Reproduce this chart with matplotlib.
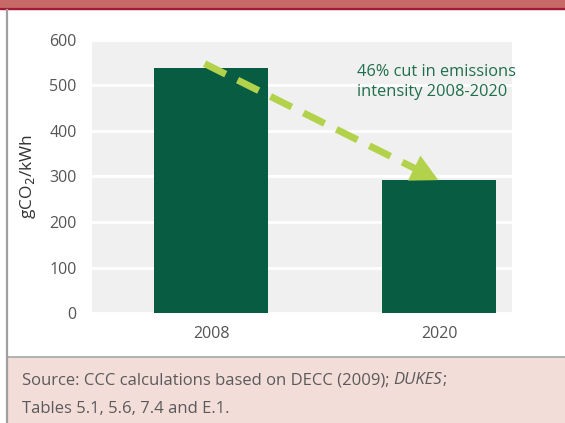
import numpy as np
import matplotlib.pyplot as plt
from matplotlib.patches import Rectangle, Polygon
from matplotlib.lines import Line2D

plt.rcParams['font.family'] = ['Open Sans', 'DejaVu Sans']

years = ['2008', '2020']
intensity = [538, 292]  # gCO2/kWh
yticks = [0, 100, 200, 300, 400, 500, 600]

bar_color = '#075c41'
arrow_color = '#b3d24b'
note_color = '#1f6e4c'
tick_color = '#555555'
src_color = '#5a5a5a'

W, H = 565, 423
fig = plt.figure(figsize=(W / 100, H / 100), dpi=100)
fig.patch.set_facecolor('white')

# header band and frame
fig.add_artist(Rectangle((0, 1 - 9 / H), 1, 9 / H, transform=fig.transFigure,
                         color='#c76a66', zorder=0))
fig.add_artist(Line2D([0, 1], [1 - 9.5 / H] * 2, transform=fig.transFigure,
                      color='#a51a3a', lw=1.6))
fig.add_artist(Rectangle((7 / W, 0), 1, (H - 357) / H, transform=fig.transFigure,
                         color='#f3ddd9', zorder=0))
fig.add_artist(Line2D([7 / W, 1], [(H - 357) / H] * 2, transform=fig.transFigure,
                      color='#a8a8a8', lw=1.2))
fig.add_artist(Line2D([7 / W] * 2, [0, 1 - 10 / H], transform=fig.transFigure,
                      color='#a0a0a0', lw=1.6))

ax = fig.add_axes([92 / W, (H - 313) / H, 420 / W, 273 / H])
ax.set_facecolor('#f0f0f0')
x = range(len(years))
ax.bar(x, intensity, width=0.5, color=bar_color, zorder=3)

ax.set_xlim(-0.524, 1.318)
ax.set_ylim(0, 600)
ax.set_yticks(yticks)
ax.set_xticks(list(x))
ax.set_xticklabels(years)
ax.grid(axis='y', color='white', lw=2, zorder=1)
ax.set_axisbelow(True)
for s in ax.spines.values():
    s.set_visible(False)
ax.tick_params(length=0, labelsize=11.5, colors=tick_color)
ax.tick_params(axis='y', pad=11)
ax.tick_params(axis='x', pad=9)
ax.set_ylabel('gCO$_2$/kWh', fontsize=12.5, color='#333333')
ax.yaxis.set_label_coords(-54 / 420, 0.5)

# reduction arrow from 2008 bar to 2020 bar: dashed shaft plus solid head
start = np.array([-0.03, intensity[0] + 10])
tip = np.array([0.995, intensity[1]])
p0 = ax.transData.transform(start)
p1 = ax.transData.transform(tip)
d = (p1 - p0) / np.linalg.norm(p1 - p0)
perp = np.array([-d[1], d[0]])
head_len, half_w = 27, 14
base_px = p1 - d * head_len
to_data = ax.transData.inverted()
base = to_data.transform(base_px + d * 2)
ax.plot([start[0], base[0]], [start[1], base[1]], color=arrow_color, lw=5,
        dashes=(3.4, 1.9), dash_capstyle='butt', solid_capstyle='butt', zorder=4)
head = to_data.transform(np.array([p1, base_px + perp * half_w, base_px - perp * half_w]))
ax.add_patch(Polygon(head, closed=True, color=arrow_color, lw=0, zorder=4))

cut = round((1 - intensity[1] / intensity[0]) * 100)
ax.text(0.64, 548, f'{cut}% cut in emissions\nintensity 2008-2020',
        color=note_color, fontsize=11.8, va='top', ha='left', linespacing=1.35)

# source note, with the report title in italics
ypos = 1 - 380 / H
fs = 12
t1 = fig.text(22 / W, ypos, 'Source: CCC calculations based on DECC (2009);',
              fontsize=fs, color=src_color, va='center')
renderer = fig.canvas.get_renderer()
bb = t1.get_window_extent(renderer=renderer)
t2 = fig.text((bb.x1 + 4) / W, ypos, 'DUKES', fontstyle='italic',
              fontsize=fs, color=src_color, va='center')
bb2 = t2.get_window_extent(renderer=renderer)
fig.text(bb2.x1 / W, ypos, ';', fontsize=fs, color=src_color, va='center')
fig.text(22 / W, 1 - 409 / H, 'Tables 5.1, 5.6, 7.4 and E.1.',
         fontsize=fs, color=src_color, va='center')

fig.savefig('out.png', dpi=100)
